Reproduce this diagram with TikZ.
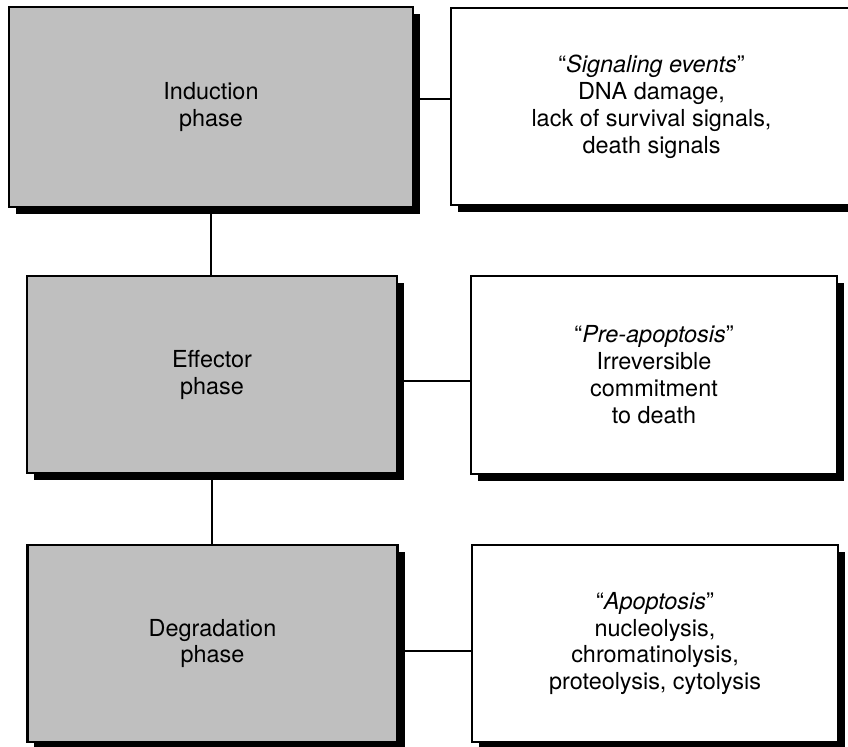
\documentclass[tikz,border=0pt]{standalone}
\usepackage{fontspec}
\setmainfont{TeX Gyre Heros}
\usetikzlibrary{shadows}

\tikzset{
  box/.style={draw, line width=1.8pt, align=center,
    font=\fontsize{20}{23}\selectfont,
    drop shadow={shadow xshift=0.21cm, shadow yshift=-0.21cm, fill=black, opacity=1}},
  phase/.style={box, fill=black!25},
  event/.style={box, fill=white},
  link/.style={line width=1.5pt}
}

\begin{document}
\begin{tikzpicture}[x=0.03cm, y=-0.03cm]
  \useasboundingbox (0,0) rectangle (848,746);
  \path[clip] (0,0) rectangle (848,746);
  \fill[white] (0,0) rectangle (848,746);

  % phases on the left
  \node[phase, minimum width=12.12cm, minimum height=6cm] (induct) at (211,107) {Induction\\phase};
  \node[phase, minimum width=11.1cm, minimum height=5.91cm] (effect) at (212,374.5) {Effector\\phase};
  \node[phase, minimum width=11.1cm, minimum height=5.91cm] (degrad) at (212.5,643.5) {Degradation\\phase};

  % events on the right
  \node[event, minimum width=12.03cm, minimum height=5.91cm] (signal) at (651.5,106.5)
    {``\textit{Signaling events}''\\DNA damage,\\lack of survival signals,\\death signals};
  \node[event, minimum width=10.98cm, minimum height=5.94cm] (preapo) at (654,375)
    {``\textit{Pre-apoptosis}''\\Irreversible\\commitment\\to death};
  \node[event, minimum width=10.98cm, minimum height=5.91cm] (apo) at (655,643.5)
    {``\textit{Apoptosis}''\\nucleolysis,\\chromatinolysis,\\proteolysis, cytolysis};

  \draw[link] (induct.south) -- (induct.south |- effect.north);
  \draw[link] (effect.south) -- (effect.south |- degrad.north);

  \draw[link] ([yshift=0.24cm]induct.east) -- ([yshift=0.24cm]induct.east -| signal.west);
  \draw[link] ([yshift=-0.2cm]effect.east) -- ([yshift=-0.2cm]effect.east -| preapo.west);
  \draw[link] ([yshift=-0.22cm]degrad.east) -- ([yshift=-0.22cm]degrad.east -| apo.west);
\end{tikzpicture}
\end{document}
